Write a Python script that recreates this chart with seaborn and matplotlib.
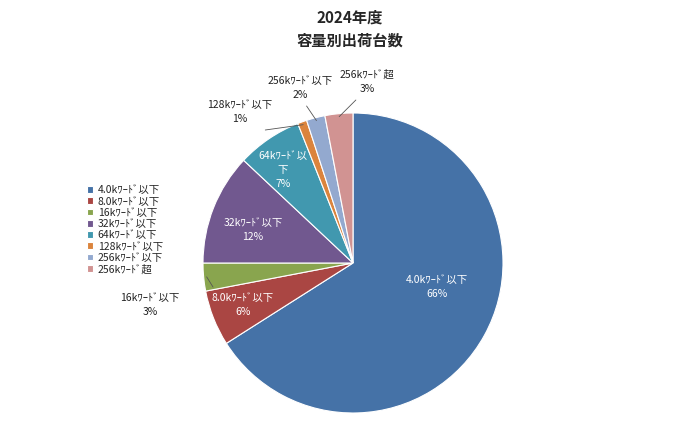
import matplotlib
matplotlib.use("Agg")
import matplotlib.pyplot as plt
import seaborn as sns
import numpy as np

sns.set_theme(style="white")
plt.rcParams['font.family'] = ['Noto Sans CJK JP', 'DejaVu Sans']

categories = ["4.0kﾜｰﾄﾞ以下", "8.0kﾜｰﾄﾞ以下", "16kﾜｰﾄﾞ以下", "32kﾜｰﾄﾞ以下",
              "64kﾜｰﾄﾞ以下", "128kﾜｰﾄﾞ以下", "256kﾜｰﾄﾞ以下", "256kﾜｰﾄﾞ超"]
values = [66, 6, 3, 12, 7, 1, 2, 3]
colors = ["#4572A7", "#AA4643", "#89A54E", "#71588F", "#4198AF", "#DB843D", "#93A9CF", "#D19392"]

fig = plt.figure(figsize=(7, 4.26), dpi=100)
ax = fig.add_axes([203/700, 13/426, 300/700, 300/426])
wedges, _ = ax.pie(values, colors=colors, startangle=90, counterclock=False,
                   wedgeprops=dict(edgecolor="white", linewidth=0.8))
ax.set_xlim(-1, 1); ax.set_ylim(-1, 1); ax.set_aspect("equal")
ax.set_clip_on(False)

def d(px, py):
    return ((px - 353) / 150, (263 - py) / 150)

labels_txt = ["4.0kﾜｰﾄﾞ以下\n66%", "8.0kﾜｰﾄﾞ以下\n6%", "16kﾜｰﾄﾞ以下\n3%", "32kﾜｰﾄﾞ以下\n12%",
              "64kﾜｰﾄﾞ以\n下\n7%", "128kﾜｰﾄﾞ以下\n1%", "256kﾜｰﾄﾞ以下\n2%", "256kﾜｰﾄﾞ超\n3%"]
pos = [(437, 287), (243, 305), (150, 305), (253, 230), (283, 170), (240, 112), (300, 88), (367, 82)]
inside = [True, True, False, True, True, False, False, False]
for w, t, p, ins in zip(wedges, labels_txt, pos, inside):
    x, y = d(*p)
    ax.text(x, y, t, ha="center", va="center", fontsize=7.5, linespacing=1.5,
            color="white" if ins else "#222222", clip_on=False)
    if not ins:
        ang = np.deg2rad((w.theta1 + w.theta2) / 2)
        ex, ey = 0.98*np.cos(ang), 0.98*np.sin(ang)
        if t.startswith("16k"):
            ax.plot([ex, x + 0.42], [ey, y + 0.12], color="#555555", lw=0.6, clip_on=False)
        else:
            ax.plot([ex, ex*1.0 + (x-ex)*0.6], [ey, y - 0.12], color="#555555", lw=0.6, clip_on=False)

fig.text(0.5, 1 - 18/426, "2024年度", ha="center", va="center", fontsize=11, fontweight="bold")
fig.text(0.5, 1 - 41/426, "容量別出荷台数", ha="center", va="center", fontsize=11, fontweight="bold")

fig.legend(wedges, categories, loc="upper left", bbox_to_anchor=(82/700, 1 - 180/426),
           frameon=False, fontsize=7.5, handlelength=0.6, handleheight=0.6,
           handletextpad=0.4, labelspacing=0.12, borderpad=0)
fig.savefig("out.png", dpi=100)
